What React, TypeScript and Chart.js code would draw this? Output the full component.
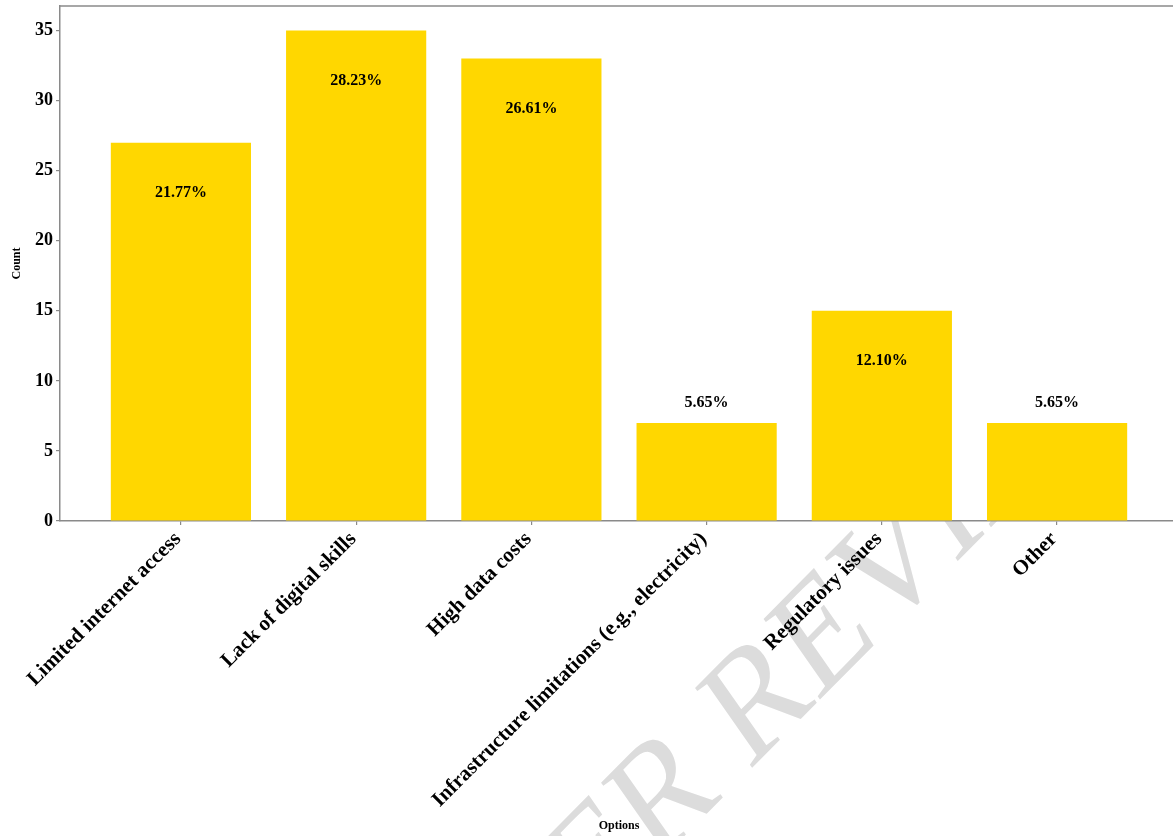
import React, { useEffect, useRef } from 'react';
import { Chart, registerables } from 'chart.js';

Chart.register(...registerables);

const categories = [
  'Limited internet access',
  'Lack of digital skills',
  'High data costs',
  'Infrastructure limitations (e.g., electricity)',
  'Regulatory issues',
  'Other',
];
const counts = [27, 35, 33, 7, 15, 7];
const percentLabels = ['21.77%', '28.23%', '26.61%', '5.65%', '12.10%', '5.65%'];
const yTicks = [0, 5, 10, 15, 20, 25, 30, 35];
const xTitle = 'Options';
const yTitle = 'Count';
const watermark = 'PEER REVIEW';

const SERIF = "'Liberation Serif', 'Times New Roman', serif";
const AXIS_GRAY = '#8a8a8a';

const decorPlugin = {
  id: 'decor',
  beforeDraw(chart: any) {
    const ctx = chart.ctx;
    const a = chart.chartArea;
    ctx.save();
    ctx.fillStyle = '#fff';
    ctx.fillRect(0, 0, chart.width, chart.height);
    ctx.beginPath();
    ctx.rect(0, 0, chart.width, chart.height);
    ctx.rect(a.left, a.top, a.right - a.left, a.bottom - a.top);
    ctx.clip('evenodd');
    ctx.translate(472, 1050);
    ctx.scale(1, 1.2);
    ctx.rotate((-40 * Math.PI) / 180);
    ctx.font = `134px ${SERIF}`;
    ctx.fillStyle = '#dcdcdc';
    ctx.textAlign = 'left';
    ctx.textBaseline = 'alphabetic';
    ctx.fillText(watermark, 0, 0);
    ctx.restore();
  },
  afterDatasetsDraw(chart: any) {
    const ctx = chart.ctx;
    const meta = chart.getDatasetMeta(0);
    const ys = chart.scales.y;
    ctx.save();
    ctx.font = `bold 16px ${SERIF}`;
    ctx.fillStyle = '#000';
    ctx.textAlign = 'center';
    meta.data.forEach((el: any, i: number) => {
      const v = counts[i];
      if (v > 10) {
        ctx.textBaseline = 'top';
        ctx.fillText(percentLabels[i], el.x, ys.getPixelForValue(v - 3));
      } else {
        ctx.textBaseline = 'bottom';
        ctx.fillText(percentLabels[i], el.x, ys.getPixelForValue(v + 1) + 2);
      }
    });
    ctx.restore();
  },
  afterDraw(chart: any) {
    const ctx = chart.ctx;
    const a = chart.chartArea;
    ctx.save();
    ctx.strokeStyle = AXIS_GRAY;
    ctx.lineWidth = 1.5;
    ctx.beginPath();
    ctx.moveTo(a.left, a.top);
    ctx.lineTo(a.right, a.top);
    ctx.lineTo(a.right, a.bottom);
    ctx.stroke();
    ctx.fillStyle = '#000';
    ctx.font = `bold 12px ${SERIF}`;
    ctx.textAlign = 'center';
    ctx.textBaseline = 'middle';
    ctx.fillText(xTitle, (a.left + a.right) / 2, 826);
    ctx.translate(17, (a.top + a.bottom) / 2);
    ctx.rotate(-Math.PI / 2);
    ctx.fillText(yTitle, 0, 0);
    ctx.restore();
  },
};

export default function App() {
  const ref = useRef<HTMLCanvasElement | null>(null);
  useEffect(() => {
    if (!ref.current) return;
    const chart = new Chart(ref.current, {
      type: 'bar',
      data: {
        datasets: [
          {
            data: counts.map((c, i) => ({ x: i, y: c })),
            backgroundColor: '#FFD700',
            borderWidth: 0,
            barPercentage: 0.8,
            categoryPercentage: 1.0,
          },
        ],
      },
      options: {
        animation: false,
        responsive: false,
        devicePixelRatio: 1,
        layout: { padding: { top: 6, right: 12, left: 0, bottom: 0 } },
        plugins: { legend: { display: false }, tooltip: { enabled: false } },
        scales: {
          x: {
            type: 'linear',
            min: -0.69,
            max: 5.69,
            offset: false,
            grid: { offset: false, drawOnChartArea: false, drawTicks: true, tickLength: 4, color: AXIS_GRAY, lineWidth: 1.2 },
            border: { display: true, color: AXIS_GRAY, width: 1.5 },
            ticks: {
              autoSkip: false,
              minRotation: 45,
              maxRotation: 45,
              padding: 2,
              labelOffset: -3,
              color: '#000',
              font: { family: SERIF, size: 21, weight: 'bold' },
              callback: (v: any) => categories[v] ?? '',
            },
            afterBuildTicks: (s: any) => {
              s.ticks = categories.map((_, i) => ({ value: i }));
            },
            afterFit: (s: any) => {
              s.height = 315;
              s.paddingLeft = 0;
              s.paddingRight = 0;
            },
          },
          y: {
            type: 'linear',
            min: 0,
            max: 36.75,
            grid: { drawOnChartArea: false, drawTicks: true, tickLength: 4, color: AXIS_GRAY, lineWidth: 1.2 },
            border: { display: true, color: AXIS_GRAY, width: 1.5 },
            ticks: {
              padding: 3,
              color: '#000',
              font: { family: SERIF, size: 18, weight: 'bold' },
            },
            afterBuildTicks: (s: any) => {
              s.ticks = yTicks.map((v) => ({ value: v }));
            },
            afterFit: (s: any) => {
              s.width = 60;
              s.paddingTop = 0;
              s.paddingBottom = 0;
            },
          },
        },
      } as any,
      plugins: [decorPlugin],
    });
    return () => chart.destroy();
  }, []);
  return (
    <div
      style={{
        position: 'absolute',
        left: 0,
        top: 0,
        width: 1173,
        height: 836,
        overflow: 'hidden',
        background: '#fff',
      }}
    >
      <canvas ref={ref} width={1190} height={836} style={{ display: 'block' }} />
    </div>
  );
}
